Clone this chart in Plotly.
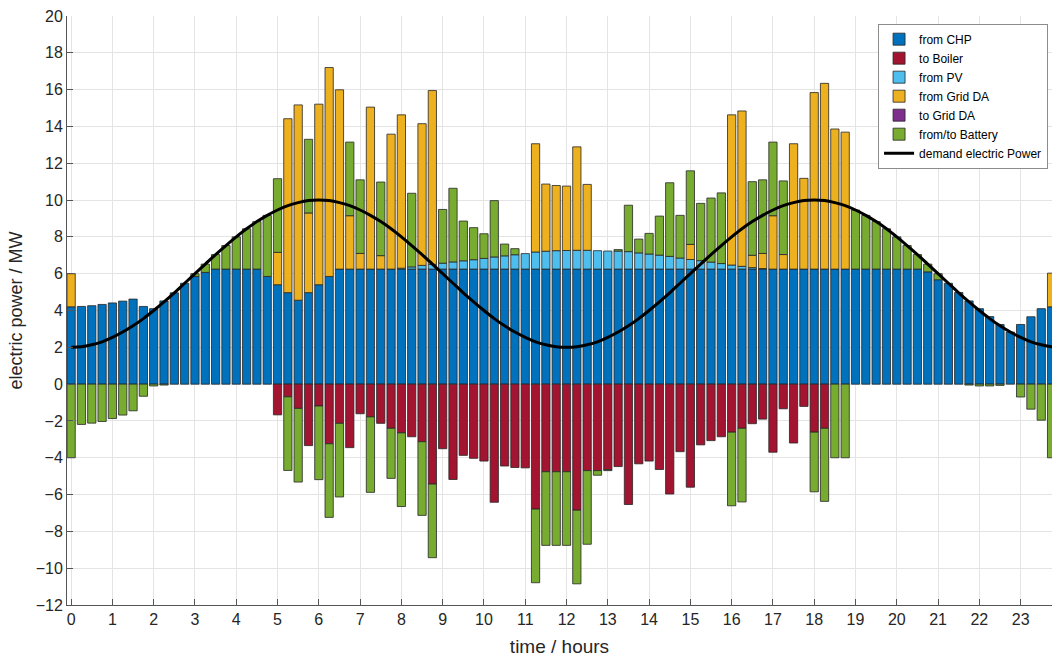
import plotly.graph_objects as go

# 15-minute time slots (hours)
time_h = [i * 0.25 for i in range(96)]
demand_time = [i * 0.25 for i in range(97)]

chp = [4.20, 4.22, 4.26, 4.33, 4.41, 4.51, 4.62, 4.22,
       4.10, 4.52, 4.96, 5.48, 5.85, 6.07, 6.25, 6.25,
       6.25, 6.25, 6.25, 5.85, 5.40, 4.97, 4.56, 4.97,
       5.40, 5.85, 6.25, 6.25, 6.25, 6.25, 6.25, 6.25,
       6.25, 6.25, 6.25, 6.25, 6.25, 6.25, 6.25, 6.25,
       6.25, 6.25, 6.25, 6.25, 6.25, 6.25, 6.25, 6.25,
       6.25, 6.25, 6.25, 6.25, 6.25, 6.25, 6.25, 6.25,
       6.25, 6.25, 6.25, 6.25, 6.25, 6.25, 6.25, 6.25,
       6.25, 6.25, 6.25, 6.25, 6.25, 6.25, 6.25, 6.25,
       6.25, 6.25, 6.25, 6.25, 6.25, 6.25, 6.25, 6.25,
       6.25, 6.25, 6.25, 6.10, 5.67, 5.48, 4.98, 4.52,
       4.10, 3.67, 3.24, 2.83, 3.24, 3.66, 4.10, 4.20]

boiler = [0, 0, 0, 0, 0, 0, 0, 0,
          0, 0, 0, 0, 0, 0, 0, 0,
          0, 0, 0, 0, -1.67, -0.69, -1.32, -3.34,
          -1.19, -3.24, -2.13, -3.45, -1.61, -1.78, -2.13, -2.40,
          -2.65, -2.86, -3.13, -5.43, -3.51, -5.18, -3.87, -4.03,
          -4.18, -6.42, -4.45, -4.53, -4.55, -6.79, -4.76, -4.76,
          -4.76, -6.85, -4.70, -4.70, -4.65, -4.48, -6.54, -4.33,
          -4.18, -4.64, -5.97, -3.67, -5.60, -3.30, -3.07, -2.86,
          -2.61, -2.40, -2.15, -1.90, -3.70, -1.34, -3.20, -1.21,
          -2.61, -2.40, 0, 0, 0, 0, 0, 0,
          0, 0, 0, 0, 0, 0, 0, 0,
          0, 0, 0, 0, 0, 0, 0, 0]

pv = [0, 0, 0, 0, 0, 0, 0, 0,
      0, 0, 0, 0, 0, 0, 0, 0,
      0, 0, 0, 0, 0, 0, 0, 0,
      0, 0, 0, 0, 0, 0, 0, 0,
      0.05, 0.12, 0.20, 0.26, 0.32, 0.39, 0.45, 0.51,
      0.58, 0.66, 0.72, 0.78, 0.84, 0.93, 0.97, 1.00,
      1.01, 1.02, 1.02, 1.00, 0.98, 0.98, 0.95, 0.88,
      0.82, 0.76, 0.69, 0.60, 0.52, 0.46, 0.38, 0.30,
      0.22, 0.15, 0.08, 0.03, 0, 0, 0, 0,
      0, 0, 0, 0, 0, 0, 0, 0,
      0, 0, 0, 0, 0, 0, 0, 0,
      0, 0, 0, 0, 0, 0, 0, 0]

grid_da = [1.80, 0, 0, 0, 0, 0, 0, 0,
           0, 0, 0, 0, 0, 0, 0, 0,
           0, 0, 0, 0, 1.76, 9.45, 10.61, 4.33,
           9.81, 11.35, 9.74, 2.90, 0.85, 8.80, 0.73, 7.33,
           8.33, 0, 7.70, 9.44, 0, 0, 0, 0,
           0, 0, 0, 0, 0, 5.88, 3.65, 3.54,
           3.50, 5.62, 3.58, 0, 0, 0, 0, 0,
           0, 0, 0, 0, 0.82, 0, 0, 0,
           8.16, 8.44, 0.67, 0.82, 2.90, 0.79, 6.81, 4.93,
           9.59, 10.09, 7.61, 7.44, 0, 0, 0, 0,
           0, 0, 0, 0, 0, 0, 0, 0,
           0, 0, 0, 0, 0, 0, 0, 1.83]

to_grid_da = [0] * 96

battery = [-4.00, -2.19, -2.12, -2.03, -1.87, -1.68, -1.45, -0.66,
           -0.10, -0.05, 0, 0, 0.15, 0.45, 0.79, 1.28,
           1.75, 2.19, 2.58, 3.32, 4.00, -4.00, -4.00, 4.00,
           -4.00, -4.00, -4.00, 4.00, 4.00, -4.10, 4.00, -2.72,
           -4.00, 4.00, -4.00, -4.00, 2.92, 4.00, 2.16, 1.74,
           1.34, 3.06, 0.64, 0.33, 0, -4.00, -4.00, -4.00,
           -4.00, -4.00, -4.00, -0.25, -0.05, 0.08, 2.52, 0.75,
           1.12, 2.12, 4.00, 2.32, 4.00, 3.11, 3.48, 3.84,
           -4.00, -4.00, 4.00, 4.00, 4.00, 4.00, 0, 0,
           -3.24, -3.97, -4.00, -4.00, 3.21, 2.92, 2.58, 2.19,
           1.75, 1.28, 0.79, 0.42, 0.33, 0, 0, -0.05,
           -0.10, -0.10, -0.07, 0, -0.70, -1.36, -1.96, -4.00]

demand = [2.00, 2.03, 2.14, 2.30, 2.54, 2.83, 3.17, 3.56,
          4.00, 4.47, 4.96, 5.48, 6.00, 6.52, 7.04, 7.53,
          8.00, 8.44, 8.83, 9.17, 9.46, 9.70, 9.86, 9.97,
          10.00, 9.97, 9.86, 9.70, 9.46, 9.17, 8.83, 8.44,
          8.00, 7.53, 7.04, 6.52, 6.00, 5.48, 4.96, 4.47,
          4.00, 3.56, 3.17, 2.83, 2.54, 2.30, 2.14, 2.03,
          2.00, 2.03, 2.14, 2.30, 2.54, 2.83, 3.17, 3.56,
          4.00, 4.47, 4.96, 5.48, 6.00, 6.52, 7.04, 7.53,
          8.00, 8.44, 8.83, 9.17, 9.46, 9.70, 9.86, 9.97,
          10.00, 9.97, 9.86, 9.70, 9.46, 9.17, 8.83, 8.44,
          8.00, 7.53, 7.04, 6.52, 6.00, 5.48, 4.96, 4.47,
          4.00, 3.56, 3.17, 2.83, 2.54, 2.30, 2.14, 2.03,
          2.00]

x_ticks = list(range(24))

series = [
    ("from CHP", chp, "#0072BD"),
    ("to Boiler", boiler, "#A2142F"),
    ("from PV", pv, "#4DBEEE"),
    ("from Grid DA", grid_da, "#EDB120"),
    ("to Grid DA", to_grid_da, "#7E2F8E"),
    ("from/to Battery", battery, "#77AC30"),
]

FONT = "Liberation Sans, Arial, sans-serif"

fig = go.Figure()
for name, vals, color in series:
    yv = [v if v != 0 else None for v in vals]
    fig.add_trace(go.Bar(
        x=time_h, y=yv, name=name,
        marker=dict(color=color, line=dict(color="#262626", width=0.8)),
        width=0.2,
    ))

fig.add_trace(go.Scatter(
    x=demand_time, y=demand, mode="lines", name="demand electric Power",
    line=dict(color="black", width=3, shape="spline"),
))

fig.update_layout(
    width=1052, height=660,
    barmode="relative",
    plot_bgcolor="white", paper_bgcolor="white",
    margin=dict(l=67, r=0, t=16, b=55),
    font=dict(family=FONT, color="#262626", size=16),
    legend=dict(
        x=0.996, y=0.987, xanchor="right", yanchor="top",
        bgcolor="white", bordercolor="#8c8c8c", borderwidth=1,
        font=dict(family=FONT, size=12, color="#000000"),
        tracegroupgap=0, itemwidth=30,
    ),
    xaxis=dict(
        range=[-0.1, 23.76], tickvals=x_ticks, ticktext=[str(v) for v in x_ticks],
        showgrid=True, gridcolor="#e4e4e4", gridwidth=1,
        showline=True, linecolor="#555555", linewidth=1,
        ticks="inside", ticklen=6, tickcolor="#555555",
        zeroline=False,
        title=dict(text="time / hours", font=dict(size=19), standoff=12),
        tickfont=dict(size=16),
    ),
    yaxis=dict(
        range=[-12, 20], dtick=2,
        showgrid=True, gridcolor="#e4e4e4", gridwidth=1,
        showline=True, linecolor="#555555", linewidth=1,
        ticks="inside", ticklen=6, tickcolor="#555555",
        zeroline=False,
        title=dict(text="electric power / MW", font=dict(size=18), standoff=8),
        tickfont=dict(size=16),
    ),
)

fig.write_html("out.html")
